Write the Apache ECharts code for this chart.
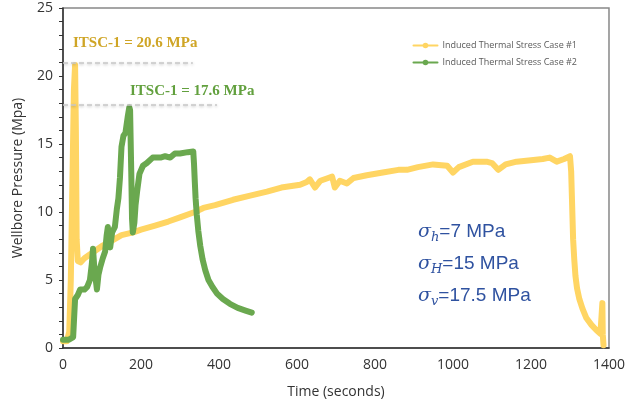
<!DOCTYPE html>
<html><head><meta charset="utf-8">
<script src="https://cdn.jsdelivr.net/npm/echarts@6/dist/echarts.min.js"></script>
<style>html,body{margin:0;padding:0;background:#fff}#c{width:628px;height:404px}</style>
</head><body><div id="c"></div>
<script>
// Case #1 (time s, pressure MPa)
const case1Time = [0,10,16,20,24,28,31,33,35,38,45,55,65,80,100,120,150,180,200,236,270,300,338,360,390,436,480,523,560,608,625,633,646,660,680,690,697,710,728,745,779,820,860,882,910,949,985,1000,1015,1051,1086,1100,1116,1135,1163,1200,1230,1248,1266,1285,1300,1303,1305,1308,1311,1314,1318,1324,1332,1342,1355,1368,1378,1382,1383,1384,1386];
const case1Press = [0.5,0.5,1.2,5,12,19,20.8,16,8,6.4,6.3,6.6,6.8,7.1,7.5,7.8,8.3,8.5,8.7,9.0,9.3,9.6,10.0,10.3,10.5,10.9,11.2,11.5,11.8,12.0,12.2,12.4,11.8,12.3,12.5,12.6,11.8,12.3,12.1,12.5,12.7,12.9,13.1,13.1,13.3,13.5,13.4,12.9,13.3,13.7,13.7,13.6,13.1,13.5,13.7,13.8,13.9,14.0,13.7,13.9,14.1,13,11,8,6.5,5.3,4.4,3.6,2.9,2.2,1.7,1.3,1.05,1.0,3.3,1.0,0.2];
// Case #2
const case2Time = [0,15,26,29,31,38,44,55,62,69,74,77,80,84,87,91,95,102,108,112,115,118,121,126,133,138,142,146,150,155,160,166,170,172,175,177,179,183,186,190,196,205,215,230,250,262,275,287,300,320,334,336,338,340,343,347,352,358,365,373,383,395,410,428,448,468,484];
const case2Press = [0.6,0.6,0.8,2.5,3.6,3.9,4.3,4.3,4.5,5.0,6.2,7.3,6.0,5.0,4.3,5.4,5.9,6.6,7.1,8.3,8.9,7.8,7.4,8.5,8.9,10.2,11.0,12.5,14.8,15.6,15.8,17.0,17.7,17.5,13,9.5,8.5,9.2,10.5,11.5,12.8,13.4,13.6,14.0,14.0,14.1,14.0,14.3,14.3,14.4,14.45,13.5,12.2,11.0,9.8,8.6,7.5,6.5,5.7,5.0,4.5,4.0,3.6,3.25,2.95,2.75,2.6];
const seriesNames = ['Induced Thermal Stress Case #1','Induced Thermal Stress Case #2'];
const xTicks = [0,200,400,600,800,1000,1200,1400];
const yTicks = [0,5,10,15,20,25];
const itscLines = [[21.0,333],[17.9,395]];
const itscLabels = ['ITSC-1 = 20.6 MPa','ITSC-1 = 17.6 MPa'];
const stressLabels = [['h','=7 MPa'],['H','=15 MPa'],['v','=17.5 MPa']];

const zip = (a,b)=>a.map((v,i)=>[v,b[i]]);
const dashStyle = {color:'#c8c8c8',type:[5,3],width:1.5,shadowBlur:3,shadowColor:'rgba(0,0,0,0.25)',shadowOffsetY:1};
const chart = echarts.init(document.getElementById('c'));
const font = 'Open Sans';
chart.setOption({
  animation:false,
  grid:{left:63,right:19,top:8,bottom:56,show:true,borderColor:'#888',borderWidth:1.5},
  legend:{right:46,top:36,orient:'vertical',itemGap:8,itemWidth:24,itemHeight:7,
    textStyle:{fontSize:9,color:'#595959',fontFamily:font},data:seriesNames},
  xAxis:{type:'value',min:0,max:1400,interval:200,
    name:'Time (seconds)',nameLocation:'middle',nameGap:37,
    nameTextStyle:{fontSize:14,color:'#333',fontFamily:font},
    axisLine:{lineStyle:{color:'#333',width:1.5}},axisTick:{show:false},splitLine:{show:false},
    axisLabel:{fontSize:14,color:'#333',fontFamily:font,margin:10,
      formatter:v=>xTicks.includes(v)?String(v):''}},
  yAxis:{type:'value',min:0,max:25,interval:5,
    name:'Wellbore Pressure (Mpa)',nameLocation:'middle',nameGap:38,
    nameTextStyle:{fontSize:14,color:'#333',fontFamily:font},
    axisLine:{show:true,lineStyle:{color:'#333',width:1.5}},
    axisTick:{show:true,length:4,lineStyle:{color:'#333'}},
    minorTick:{show:true,splitNumber:5,length:4,lineStyle:{color:'#333'}},
    splitLine:{show:false},
    axisLabel:{fontSize:14,color:'#333',fontFamily:font,margin:10,
      formatter:v=>yTicks.includes(v)?String(v):''}},
  series:[
    {name:seriesNames[0],type:'line',data:zip(case1Time,case1Press),
      symbol:'circle',symbolSize:6,showSymbol:false,
      lineStyle:{color:'#FFD563',width:6,cap:'round',join:'round'},itemStyle:{color:'#FFD563'},z:2,
      markLine:{silent:true,symbol:'none',label:{show:false},lineStyle:dashStyle,
        data:[[{coord:[0,itscLines[0][0]]},{coord:[itscLines[0][1],itscLines[0][0]]}]]}},
    {name:seriesNames[1],type:'line',data:zip(case2Time,case2Press),
      symbol:'circle',symbolSize:6,showSymbol:false,
      lineStyle:{color:'#6AA84F',width:6,cap:'round',join:'round'},itemStyle:{color:'#6AA84F'},z:3,
      markLine:{silent:true,symbol:'none',label:{show:false},lineStyle:dashStyle,
        data:[[{coord:[0,itscLines[1][0]]},{coord:[itscLines[1][1],itscLines[1][0]]}]]}}
  ],
  graphic:[
    {type:'text',left:73,top:36,style:{text:itscLabels[0],font:'bold 15px "Liberation Serif"',fill:'#CFA526'}},
    {type:'text',left:130,top:84,style:{text:itscLabels[1],font:'bold 15px "Liberation Serif"',fill:'#62A03E'}},
    ...stressLabels.map((s,i)=>({type:'text',left:418,top:220+i*32,style:{
      text:'{s|σ}{b|'+s[0]+'}{t|'+s[1]+'}',
      rich:{
        s:{fontFamily:'DejaVu Serif',fontStyle:'italic',fontSize:19,fill:'#2F52A0',lineHeight:26,verticalAlign:'middle'},
        b:{fontFamily:'DejaVu Serif',fontStyle:'italic',fontSize:13,fill:'#2F52A0',lineHeight:20,padding:[11,0,0,0],verticalAlign:'middle'},
        t:{fontFamily:'Liberation Sans',fontSize:19,fill:'#2F52A0',lineHeight:26,verticalAlign:'middle'}
      }}}))
  ]
});
</script></body></html>
